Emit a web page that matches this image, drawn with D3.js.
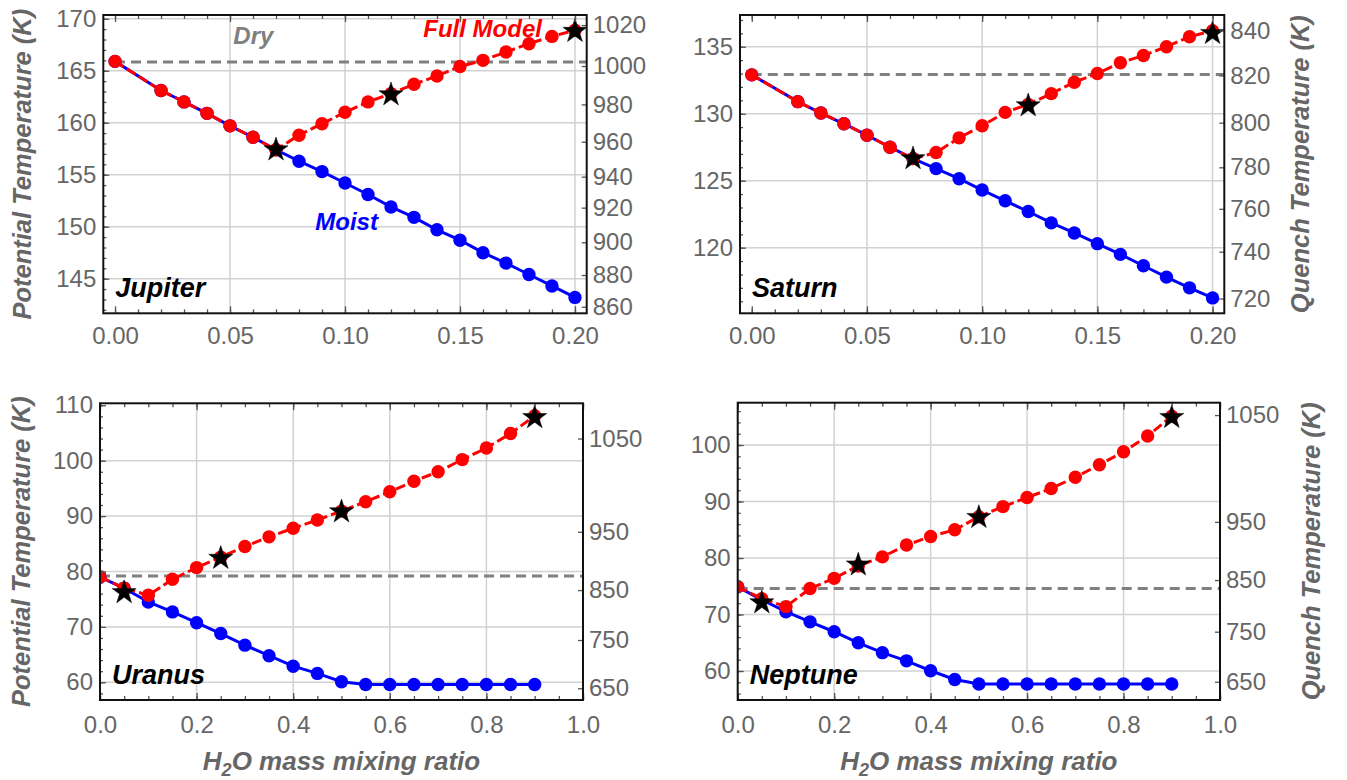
<!DOCTYPE html>
<html><head><meta charset="utf-8">
<script src="https://cdn.jsdelivr.net/npm/d3@7/dist/d3.min.js"></script>
<style>
body{margin:0;background:#fff}
svg{display:block}
text{font-family:"Liberation Sans",Arial,Helvetica,sans-serif}
</style>
</head><body>
<svg id="chart" width="1347" height="780"></svg>
<script>
// ---------------- DATA ----------------
const jupX = [0,0.02,0.03,0.04,0.05,0.06,0.07,0.08,0.09,0.10,0.11,0.12,0.13,0.14,0.15,0.16,0.17,0.18,0.19,0.20];
const jupFull = [165.9,163.1,162.0,160.9,159.7,158.6,157.4,158.8,159.9,161.0,162.0,162.8,163.7,164.5,165.4,166.0,166.8,167.6,168.3,168.9];
const jupMoist = [165.9,163.1,162.0,160.9,159.7,158.6,157.4,156.3,155.3,154.2,153.1,151.9,150.9,149.7,148.7,147.5,146.5,145.4,144.3,143.2];
const jupStarX = [0.07,0.12,0.20];
const jupStarY = [157.4,162.7,168.8];
const jupDry = 165.85;
const jupQuenchLabels = [860,880,900,920,940,960,980,1000,1020];
const jupQuenchAt = [142.3,145.35,148.5,151.83,154.81,158.17,161.76,165.45,169.39];

const satX = [0,0.02,0.03,0.04,0.05,0.06,0.07,0.08,0.09,0.10,0.11,0.12,0.13,0.14,0.15,0.16,0.17,0.18,0.19,0.20];
const satFull = [132.9,130.9,130.05,129.25,128.4,127.5,126.65,127.1,128.2,129.1,130.1,130.7,131.5,132.35,133.0,133.8,134.35,135.0,135.75,136.2];
const satMoist = [132.9,130.9,130.05,129.25,128.4,127.5,126.65,125.9,125.15,124.3,123.5,122.7,121.85,121.1,120.3,119.5,118.65,117.8,117.0,116.25];
const satStarX = [0.07,0.12,0.20];
const satStarY = [126.65,130.6,136.0];
const satDry = 132.93;
const satQuenchLabels = [720,740,760,780,800,820,840];
const satQuenchAt = [116.2,119.7,122.9,126.0,129.33,132.86,136.22];

const uraX = [0,0.05,0.10,0.15,0.20,0.25,0.30,0.35,0.40,0.45,0.50,0.55,0.60,0.65,0.70,0.75,0.80,0.85,0.90];
const uraFull = [79.0,77.0,75.7,78.6,80.7,82.6,84.5,86.25,87.8,89.3,90.9,92.6,94.4,96.3,98.0,100.2,102.3,104.9,108.1];
const uraMoist = [79.0,77.0,74.5,72.7,70.75,68.8,66.7,64.8,62.9,61.6,60.1,59.6,59.6,59.6,59.6,59.6,59.6,59.6,59.6];
const uraStarX = [0.05,0.25,0.50,0.90];
const uraStarY = [76.2,82.4,90.8,107.8];
const uraDry = 79.17;
const uraQuenchLabels = [650,750,850,950,1050];
const uraQuenchAt = [58.92,67.63,76.64,87.16,104.0];

const nepX = [0,0.05,0.10,0.15,0.20,0.25,0.30,0.35,0.40,0.45,0.50,0.55,0.60,0.65,0.70,0.75,0.80,0.85,0.90];
const nepFull = [74.9,72.8,71.4,74.6,76.4,78.6,80.2,82.3,83.8,85.0,87.3,89.1,90.7,92.3,94.3,96.5,98.8,101.6,105.1];
const nepMoist = [74.9,72.6,70.5,68.7,66.95,65.0,63.25,61.8,60.05,58.5,57.7,57.7,57.7,57.7,57.7,57.7,57.7,57.7,57.7];
const nepStarX = [0.05,0.25,0.50,0.90];
const nepStarY = [72.1,78.8,87.2,104.9];
const nepDry = 74.6;
const nepQuenchLabels = [650,750,850,950,1050];
const nepQuenchAt = [58.1,66.96,76.1,86.4,105.3];

const planetNames = ["Jupiter","Saturn","Uranus","Neptune"];
const yTitleLeft = "Potential Temperature (K)";
const yTitleRight = "Quench Temperature (K)";

// ---------------- LAYOUT ----------------
const panels = [
  {name:planetNames[0], xs:jupX, full:jupFull, moist:jupMoist, sx:jupStarX, sy:jupStarY, dry:jupDry, ql:jupQuenchLabels, qa:jupQuenchAt,
   box:[103.3,15,586.7,313.3], xd:[-0.0051,0.2051], yd:[141.67,170.36],
   xMaj:d3.range(0,0.2001,0.05), xMin:0.01, xFmt:d3.format(".2f"), yMaj:[145,150,155,160,165,170], yMin:1, lblPad:14},
  {name:planetNames[1], xs:satX, full:satFull, moist:satMoist, sx:satStarX, sy:satStarY, dry:satDry, ql:satQuenchLabels, qa:satQuenchAt,
   box:[740,15,1224.3,313.3], xd:[-0.0051,0.2051], yd:[115.1,137.37],
   xMaj:d3.range(0,0.2001,0.05), xMin:0.01, xFmt:d3.format(".2f"), yMaj:[120,125,130,135], yMin:1, lblPad:14},
  {name:planetNames[2], xs:uraX, full:uraFull, moist:uraMoist, sx:uraStarX, sy:uraStarY, dry:uraDry, ql:uraQuenchLabels, qa:uraQuenchAt,
   box:[100,403.3,583,700], xd:[0,1], yd:[56.8,110.36],
   xMaj:d3.range(0,1.0001,0.2), xMin:0.05, xFmt:d3.format(".1f"), yMaj:[60,70,80,90,100,110], yMin:2, lblPad:16},
  {name:planetNames[3], xs:nepX, full:nepFull, moist:nepMoist, sx:nepStarX, sy:nepStarY, dry:nepDry, ql:nepQuenchLabels, qa:nepQuenchAt,
   box:[737.7,402.7,1220,700], xd:[0,1], yd:[54.87,107.49],
   xMaj:d3.range(0,1.0001,0.2), xMin:0.05, xFmt:d3.format(".1f"), yMaj:[60,70,80,90,100], yMin:2, lblPad:16}
];

const svg = d3.select("#chart");
const RED = "#ff0000", BLUE = "#0000ff", GRAY = "#666666", GRID = "#d2d2d2";
const TICKFS = 24;

panels.forEach((p, idx) => {
  const [L,T,R,B] = p.box;
  const x = d3.scaleLinear().domain(p.xd).range([L,R]);
  const y = d3.scaleLinear().domain(p.yd).range([B,T]);
  const g = svg.append("g");
  const clipId = "clip"+idx;
  svg.append("clipPath").attr("id",clipId).append("rect").attr("x",L).attr("y",T).attr("width",R-L).attr("height",B-T);

  // grid
  const xg = p.xMaj.filter(v => x(v) > L+3 && x(v) < R-3 && Math.abs(v) > 1e-9);
  g.append("g").selectAll("line").data(xg).join("line")
    .attr("x1",d=>x(d)).attr("x2",d=>x(d)).attr("y1",T).attr("y2",B)
    .attr("stroke",GRID).attr("stroke-width",1.5);
  const yg = p.yMaj.filter(v => y(v) > T+3 && y(v) < B-3);
  g.append("g").selectAll("line").data(yg).join("line")
    .attr("x1",L).attr("x2",R).attr("y1",d=>y(d)).attr("y2",d=>y(d))
    .attr("stroke",GRID).attr("stroke-width",1.5);

  const data = g.append("g").attr("clip-path",`url(#${clipId})`);
  // dry line
  data.append("line").attr("x1",x(0)).attr("x2",R).attr("y1",y(p.dry)).attr("y2",y(p.dry))
    .attr("stroke","#808080").attr("stroke-width",3).attr("stroke-dasharray","10,6");

  const line = d3.line().x(d=>x(d[0])).y(d=>y(d[1]));
  const moistPts = p.xs.map((v,i)=>[v,p.moist[i]]);
  const fullPts = p.xs.map((v,i)=>[v,p.full[i]]);
  data.append("path").attr("d",line(moistPts)).attr("fill","none").attr("stroke",BLUE).attr("stroke-width",3);
  data.append("g").selectAll("circle").data(moistPts).join("circle")
    .attr("cx",d=>x(d[0])).attr("cy",d=>y(d[1])).attr("r",6.7).attr("fill",BLUE);
  data.append("path").attr("d",line(fullPts)).attr("fill","none").attr("stroke",RED).attr("stroke-width",3)
    .attr("stroke-dasharray","10,4");
  data.append("g").selectAll("circle").data(fullPts).join("circle")
    .attr("cx",d=>x(d[0])).attr("cy",d=>y(d[1])).attr("r",6.7).attr("fill",RED);
  const star = d3.symbol().type(d3.symbolStar).size(180);
  data.append("g").selectAll("path").data(p.sx.map((v,i)=>[v,p.sy[i]])).join("path")
    .attr("d",star).attr("transform",d=>`translate(${x(d[0])},${y(d[1])})`)
    .attr("fill","#000").attr("stroke","#000").attr("stroke-width",0.5);

  // axes
  const yMinor = d3.range(Math.ceil(p.yd[0]/p.yMin)*p.yMin, p.yd[1], p.yMin);
  const xMinor = d3.range(Math.ceil(p.xd[0]/p.xMin - 1e-9)*p.xMin, p.xd[1]+1e-9, p.xMin);
  const styleAxis = sel => {
    sel.select(".domain").remove();
    sel.selectAll(".tick line").attr("stroke","#555").attr("stroke-width",1.3);
    sel.selectAll("text").attr("fill",GRAY).attr("font-size",TICKFS);
  };
  g.append("g").attr("transform",`translate(${L},0)`)
    .call(d3.axisLeft(y).tickValues(yMinor).tickSize(-3).tickFormat("")).call(styleAxis);
  g.append("g").attr("transform",`translate(${L},0)`)
    .call(d3.axisLeft(y).tickValues(p.yMaj).tickSize(-6).tickPadding(7)).call(styleAxis);
  g.append("g").attr("transform",`translate(${R},0)`)
    .call(d3.axisRight(y).tickValues(p.qa).tickSize(-5).tickPadding(6).tickFormat((d,i)=>p.ql[i])).call(styleAxis);
  g.append("g").attr("transform",`translate(0,${B})`)
    .call(d3.axisBottom(x).tickValues(xMinor).tickSize(-4).tickFormat("")).call(styleAxis);
  g.append("g").attr("transform",`translate(0,${B})`)
    .call(d3.axisBottom(x).tickValues(p.xMaj).tickSize(-7).tickPadding(p.lblPad).tickFormat(p.xFmt)).call(styleAxis);
  g.append("g").attr("transform",`translate(0,${T})`)
    .call(d3.axisTop(x).tickValues(xMinor).tickSize(-4).tickFormat("")).call(styleAxis);
  g.append("g").attr("transform",`translate(0,${T})`)
    .call(d3.axisTop(x).tickValues(p.xMaj).tickSize(-7).tickFormat("")).call(styleAxis);

  // frame
  g.append("rect").attr("x",L).attr("y",T).attr("width",R-L).attr("height",B-T)
    .attr("fill","none").attr("stroke","#111").attr("stroke-width",2);

  // planet name
  g.append("text").attr("x",L+12).attr("y",B-16).text(p.name)
    .attr("font-size",27).attr("font-weight","bold").attr("font-style","italic").attr("fill","#000");

  // axis titles
  const cy = (T+B)/2;
  if (idx % 2 === 0) {
    g.append("text").attr("transform",`translate(${idx===0?31:30},${cy}) rotate(-90)`)
      .attr("text-anchor","middle").attr("font-size",25.5).attr("font-weight","bold").attr("font-style","italic")
      .attr("fill",GRAY).text(yTitleLeft);
  } else {
    g.append("text").attr("transform",`translate(${idx===1?1309:1320},${cy}) rotate(-90)`)
      .attr("text-anchor","middle").attr("font-size",25.5).attr("font-weight","bold").attr("font-style","italic")
      .attr("fill",GRAY).text(yTitleRight);
  }
  if (idx >= 2) {
    const t = g.append("text").attr("x",(L+R)/2).attr("y",770).attr("text-anchor","middle")
      .attr("font-size",26).attr("font-weight","bold").attr("font-style","italic").attr("fill",GRAY);
    t.append("tspan").text("H");
    t.append("tspan").attr("dy",6).attr("font-size",18).text("2");
    t.append("tspan").attr("dy",-6).text("O mass mixing ratio");
  }
  if (idx === 0) {
    const ann = (txt,xx,yy,col) => g.append("text").attr("x",xx).attr("y",yy).text(txt)
      .attr("font-size",24).attr("font-weight","bold").attr("font-style","italic").attr("fill",col);
    ann("Dry", L+130, T+29, "#808080");
    ann("Full Model", L+320, T+22, RED);
    ann("Moist", L+212, T+215, BLUE);
  }
});
</script>
</body></html>
